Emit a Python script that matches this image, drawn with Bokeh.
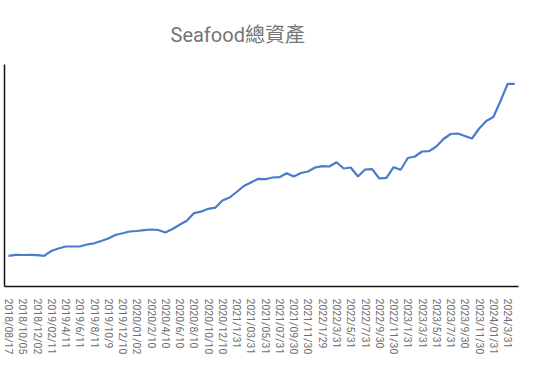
from bokeh.plotting import figure
from bokeh.models import Range1d, FixedTicker
from bokeh.embed import file_html
from bokeh.resources import INLINE

# Tick labels (every second data point is labelled)
tick_labels = [
    "2018/08/17", "2018/10/05", "2018/12/02", "2019/02/11", "2019/4/11", "2019/6/11",
    "2019/8/11", "2019/10/9", "2019/12/10", "2020/01/02", "2020/2/10", "2020/4/10",
    "2020/6/10", "2020/8/10", "2020/10/10", "2020/12/10", "2021/1/31", "2021/03/31",
    "2021/05/31", "2021/07/31", "2021/09/30", "2021/11/30", "2022/1/29", "2022/3/31",
    "2022/5/31", "2022/7/31", "2022/9/30", "2022/11/30", "2023/1/31", "2023/3/31",
    "2023/5/31", "2023/7/31", "2023/9/30", "2023/11/30", "2024/01/31", "2024/3/31",
]

# Total assets (arbitrary units)
total_assets = [
    30.7, 31.7, 31.5, 31.7, 31.3, 30.7, 35.5, 38.0, 40.0, 40.0,
    40.0, 42.0, 43.2, 45.5, 48.0, 51.5, 53.2, 55.0, 55.5, 56.3,
    57.0, 56.5, 54.0, 57.5, 61.7, 65.7, 73.3, 74.8, 77.7, 78.8,
    86.0, 89.0, 94.5, 100.5, 104.0, 107.7, 107.3, 109.0, 109.3, 113.3,
    110.0, 113.5, 115.0, 119.0, 120.3, 120.0, 124.3, 118.0, 119.0, 110.0,
    117.0, 117.3, 108.0, 108.7, 119.3, 116.7, 128.5, 130.0, 135.0, 135.3,
    140.0, 147.5, 152.5, 153.0, 150.5, 148.0, 158.0, 165.5, 169.5, 185.5,
    202.7, 202.7,
]
positions = list(range(len(total_assets)))
tick_positions = positions[::2]

p = figure(
    width=541, height=380,
    output_backend="svg", toolbar_location=None,
    x_range=Range1d(-0.56, 71.52), y_range=Range1d(0, 222),
    min_border_left=4, min_border_right=23, min_border_top=64, min_border_bottom=94,
    title="Seafood總資產",
)
p.title.text_font = "Roboto, 'Noto Sans CJK TC'"
p.title.text_font_size = "20px"
p.title.text_font_style = "normal"
p.title.text_color = "#757575"
p.title.align = "left"
p.title.offset = 166
p.title.standoff = 36

p.line(positions, total_assets, line_color="#4a7ccc", line_width=2.2)

p.outline_line_color = None
p.grid.visible = False

xa = p.xaxis[0]
xa.ticker = FixedTicker(ticks=tick_positions)
xa.major_label_overrides = {t: lab for t, lab in zip(tick_positions, tick_labels)}
xa.major_label_orientation = "vertical"
xa.major_label_text_font = "Roboto"
xa.major_label_text_font_size = "10.5px"
xa.major_label_text_color = "#6e6e6e"
xa.major_label_standoff = 6
xa.major_tick_line_color = None
xa.minor_tick_line_color = None
xa.axis_line_color = "#111111"
xa.axis_line_width = 1.5

ya = p.yaxis[0]
ya.ticker = FixedTicker(ticks=[])
ya.major_label_standoff = 0
ya.major_tick_line_color = None
ya.minor_tick_line_color = None
ya.major_tick_out = 0
ya.minor_tick_out = 0
ya.axis_line_color = "#111111"
ya.axis_line_width = 1.5

open("out.html", "w").write(file_html(p, INLINE))
